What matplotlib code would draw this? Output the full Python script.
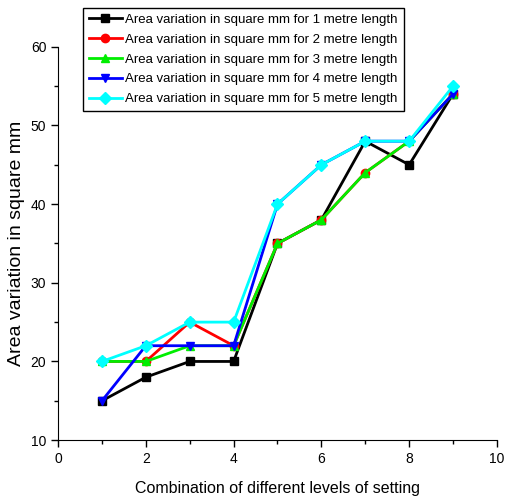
import numpy as np
import matplotlib
matplotlib.use('Agg')
import matplotlib.pyplot as plt
from matplotlib.ticker import MultipleLocator

plt.rc('font', family='Liberation Sans')

# combination index on the x axis
combo = [1, 2, 3, 4, 5, 6, 7, 8, 9]

# area variation (square mm) for each length
area_1m = [15, 18, 20, 20, 35, 38, 48, 45, 54]
area_2m = [20, 20, 25, 22, 35, 38, 44, 48, 54]
area_3m = [20, 20, 22, 22, 35, 38, 44, 48, 54]
area_4m = [15, 22, 22, 22, 40, 45, 48, 48, 54]
area_5m = [20, 22, 25, 25, 40, 45, 48, 48, 55]

series = [
    (area_1m, 'Area variation in square mm for 1 metre length', 'black', 's'),
    (area_2m, 'Area variation in square mm for 2 metre length', 'red', 'o'),
    (area_3m, 'Area variation in square mm for 3 metre length', '#00ee00', '^'),
    (area_4m, 'Area variation in square mm for 4 metre length', 'blue', 'v'),
    (area_5m, 'Area variation in square mm for 5 metre length', 'cyan', 'D'),
]

fig = plt.figure(figsize=(5.05, 5.03), dpi=100)
ax = fig.add_axes([0.115, 0.125, 0.869, 0.782])

for vals, lab, col, mk in series:
    ax.plot(combo, vals, color=col, marker=mk, markersize=6, linewidth=2, label=lab)

ax.set_xlim(0, 10)
ax.set_ylim(10, 60)
ax.xaxis.set_major_locator(MultipleLocator(2))
ax.xaxis.set_minor_locator(MultipleLocator(1))
ax.yaxis.set_major_locator(MultipleLocator(10))
ax.yaxis.set_minor_locator(MultipleLocator(5))
ax.spines['top'].set_visible(False)
ax.spines['right'].set_visible(False)
ax.tick_params(which='major', direction='out', length=5, width=1, labelsize=10)
ax.tick_params(which='minor', direction='out', length=3, width=1)

ax.set_xlabel('Combination of different levels of setting', fontsize=11.5, labelpad=11)
ax.set_ylabel('Area variation in square mm', fontsize=14, labelpad=4)

leg = ax.legend(loc='upper left', bbox_to_anchor=(83 / 505, 1 - 8 / 503),
                bbox_transform=fig.transFigure, fontsize=9.5, frameon=True,
                fancybox=False, edgecolor='black', framealpha=1,
                handlelength=2.5, labelspacing=0.58, borderpad=0.42,
                handletextpad=0.3, borderaxespad=0)
leg.get_frame().set_linewidth(1)

fig.savefig('out.png', dpi=100)
